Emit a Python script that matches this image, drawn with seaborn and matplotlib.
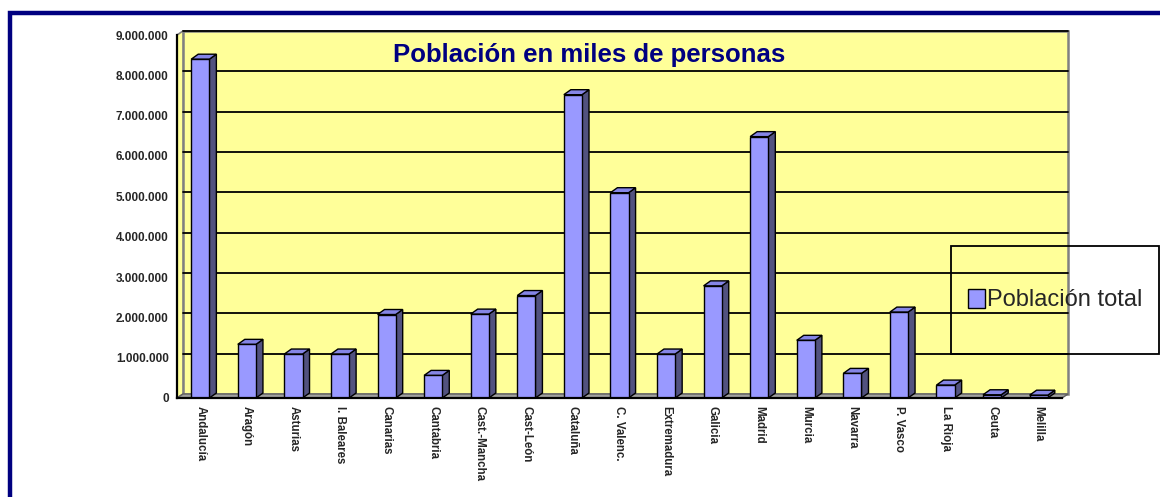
import matplotlib
matplotlib.use("Agg")
import matplotlib.pyplot as plt
import seaborn as sns
from matplotlib.patches import Polygon, Rectangle
from matplotlib.ticker import FuncFormatter, FixedLocator

# datos
regiones = ["Andalucía", "Aragón", "Asturias", "I. Baleares", "Canarias", "Cantabria",
            "Cast.-Mancha", "Cast-León", "Cataluña", "C. Valenc.", "Extremadura",
            "Galicia", "Madrid", "Murcia", "Navarra", "P. Vasco", "La Rioja",
            "Ceuta", "Melilla"]
poblacion = [8400000, 1330000, 1090000, 1090000, 2070000, 560000,
             2080000, 2540000, 7520000, 5090000, 1090000,
             2780000, 6480000, 1430000, 610000, 2130000, 320000,
             80000, 70000]
y_ticks = list(range(0, 9000001, 1000000))
serie = "Población total"

sns.set_style("white")
plt.rcParams["font.family"] = ["Liberation Sans", "DejaVu Sans"]

W, H = 1160, 497
fig = plt.figure(figsize=(W / 100, H / 100), dpi=100)

# ejes frontales (en pixeles)
x0, x1, ytop, ybot = 177, 1062, 35, 398
ax = fig.add_axes([x0 / W, (H - ybot) / H, (x1 - x0) / W, (ybot - ytop) / H])
ax.set_facecolor("none")

n = len(regiones)
xmin, xmax = -0.5, n - 0.5
ymax = 9000000
ax.set_xlim(xmin, xmax)
ax.set_ylim(0, ymax)

# desplazamiento 3D en unidades de datos
px_x = (xmax - xmin) / (x1 - x0)
px_y = ymax / (ybot - ytop)
wdx, wdy = 6 * px_x, 4 * px_y   # pared del fondo
bdx, bdy = 7 * px_x, 5 * px_y   # profundidad de barras

# pared del fondo
ax.add_patch(Rectangle((xmin + wdx, wdy), xmax - xmin, ymax, facecolor="#FFFF99",
                       edgecolor="#808080", lw=1.8, zorder=0, clip_on=False))
# pared izquierda
ax.add_patch(Polygon([(xmin, 0), (xmin + wdx, wdy), (xmin + wdx, ymax + wdy), (xmin, ymax)],
                     closed=True, facecolor="#FFFF99", edgecolor="#808080", lw=1.2,
                     zorder=0.5, clip_on=False))
# suelo
ax.add_patch(Polygon([(xmin, 0), (xmax, 0), (xmax + wdx, wdy), (xmin + wdx, wdy)],
                     closed=True, facecolor="#A0A0A0", edgecolor="#606060", lw=1.0,
                     zorder=0.6, clip_on=False))
# lineas de division
for v in y_ticks[1:]:
    ax.plot([xmin + wdx, xmax + wdx], [v + wdy, v + wdy], color="black", lw=1.3,
            zorder=0.7, clip_on=False)

sns.barplot(x=regiones, y=poblacion, color="#9999FF", saturation=1, width=0.39,
            edgecolor="black", linewidth=1.0, label=serie, ax=ax, zorder=3)
ax.set_xlim(xmin, xmax)

# caras laterales y superiores
for p in ax.patches:
    if not isinstance(p, Rectangle) or p.get_facecolor()[:3] != matplotlib.colors.to_rgb("#9999FF"):
        continue
    bx, bw, bh = p.get_x(), p.get_width(), p.get_height()
    if bw > 1:
        continue
    r = bx + bw
    ax.add_patch(Polygon([(r, 0), (r + bdx, bdy), (r + bdx, bh + bdy), (r, bh)], closed=True,
                         facecolor="#52527F", edgecolor="black", lw=1.0, zorder=2.9))
    ax.add_patch(Polygon([(bx, bh), (bx + bdx, bh + bdy), (r + bdx, bh + bdy), (r, bh)],
                         closed=True, facecolor="#8585E6", edgecolor="black", lw=1.0,
                         zorder=2.9, clip_on=False))

# ejes
for s in ["top", "right"]:
    ax.spines[s].set_visible(False)
for s in ["left", "bottom"]:
    ax.spines[s].set_color("black")
    ax.spines[s].set_linewidth(1.6)
    ax.spines[s].set_zorder(4)

ax.yaxis.set_major_locator(FixedLocator(y_ticks))
ax.yaxis.set_major_formatter(FuncFormatter(lambda v, pos: f"{int(v):,}".replace(",", ".")))
ax.tick_params(axis="y", direction="out", length=5, width=1.6, color="black", pad=1,
               labelsize=8.5)
for t in ax.get_yticklabels():
    t.set_fontweight("bold")

ax.set_xticks(range(n))
ax.set_xticklabels(regiones, rotation=270, fontsize=8.3, fontweight="bold", va="top", ha="center")
ax.tick_params(axis="x", which="major", length=0, pad=6)
ax.set_xticks([i - 0.5 for i in range(n + 1)], minor=True)
ax.tick_params(axis="x", which="minor", direction="out", length=6, width=1.6, color="black")
ax.set_xlabel("")
ax.set_ylabel("")

# titulo
fig.text(589 / W, 1 - 55 / H, "Población en miles de personas", color="#000080",
         fontsize=18.5, fontweight="bold", ha="center", va="center")

# leyenda
ax.get_legend().remove() if ax.get_legend() else None
lx0, lx1, ly0, ly1 = 951, 1159, 246, 354
fig.patches.append(Rectangle((lx0 / W, 1 - ly1 / H), (lx1 - lx0) / W, (ly1 - ly0) / H,
                             transform=fig.transFigure, facecolor="none",
                             edgecolor="black", lw=1.3, zorder=10))
handles, labels = ax.get_legend_handles_labels()
fig.legend(handles[:1], labels[:1], loc="center", bbox_to_anchor=((lx0 + lx1) / 2 / W,
           1 - (ly0 + ly1) / 2 / H), frameon=False, fontsize=17, handlelength=0.72,
           handleheight=0.85, handletextpad=0.1, borderpad=0)

# marco azul
fig.patches.append(Rectangle((10 / W, -0.2), 1.3, 1.2 - 13 / H, transform=fig.transFigure,
                             facecolor="none", edgecolor="#000080", lw=3.2, zorder=0))

fig.savefig("out.png", dpi=100)
